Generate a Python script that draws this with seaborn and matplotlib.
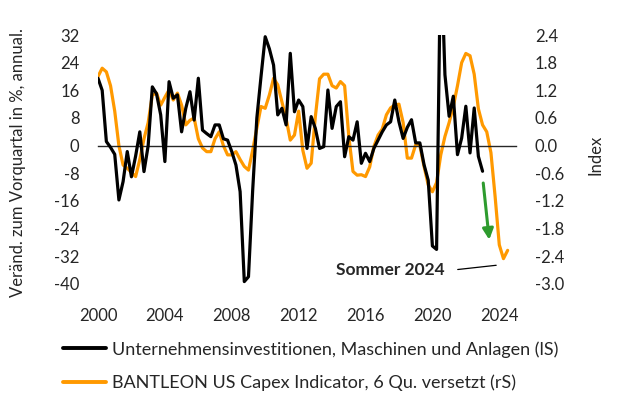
import numpy as np
import pandas as pd
import seaborn as sns
import matplotlib
matplotlib.use("Agg")
import matplotlib.pyplot as plt

# quarterly data, first point 2000 Q1
capex_yoy = [19.5, 16, 1.2, -0.5, -2.5, -15.7, -10.4, -1.7, -9, -3,
             4, -7.5, 0, 17, 15, 8.9, -4.6, 18.5, 13.7, 14.7,
             4, 10.8, 15.6, 7.4, 19.5, 4.5, 3.5, 2.6, 6, 6,
             2, 1.6, -1.7, -5.6, -13.3, -39.3, -37.9, -13, 8, 20,
             31.5, 28, 23.3, 8.9, 10.8, 6, 26.7, 9.8, 13.2, 11.3,
             -0.8, 8.4, 5, -0.8, -0.3, 16.1, 5, 11.3, 12.7, -3.2,
             2.6, 1.6, 6.9, -5.1, -2.2, -4.6, -0.8, 1.6, 4, 6,
             6.9, 13.2, 6.9, 2.1, 5.3, 7.5, 0.8, 0.8, -5.5, -10,
             -29, -30, 58, 20.5, 8.5, 14.3, -2.6, 2.2, 11.4, -2.1,
             10.9, -3.1, -7.4]
indicator = [1.5, 1.68, 1.6, 1.3, 0.75, 0.0, -0.42, -0.49, -0.58, -0.67,
             -0.3, 0.15, 0.5, 1.1, 1.14, 0.88, 1.05, 1.21, 0.99, 1.14,
             0.88, 0.45, 0.55, 0.6, 0.15, -0.05, -0.13, -0.13, 0.15, 0.3,
             0.0, -0.2, -0.2, -0.13, -0.3, -0.45, -0.53, -0.1, 0.38, 0.85,
             0.81, 1.1, 1.46, 1.32, 0.95, 0.59, 0.12, 0.23, 0.75, -0.1,
             -0.49, -0.38, 0.63, 1.45, 1.55, 1.55, 1.3, 1.25, 1.39, 1.3,
             0.2, -0.56, -0.64, -0.63, -0.67, -0.46, -0.02, 0.23, 0.36, 0.67,
             0.82, 0.88, 0.9, 0.5, -0.27, -0.27, 0.02, 0.0, -0.45, -0.85,
             -1.0, -0.8, -0.2, 0.2, 0.5, 0.85, 1.3, 1.8, 2.0, 1.95,
             1.55, 0.8, 0.45, 0.3, -0.15, -1.1, -2.15, -2.45, -2.27]

year_ticks = [2000, 2004, 2008, 2012, 2016, 2020, 2024]
left_ticks = [-40, -32, -24, -16, -8, 0, 8, 16, 24, 32]
right_ticks = [-3.0, -2.4, -1.8, -1.2, -0.6, 0.0, 0.6, 1.2, 1.8, 2.4]

label_black = "Unternehmensinvestitionen, Maschinen und Anlagen (lS)"
label_orange = "BANTLEON US Capex Indicator, 6 Qu. versetzt (rS)"

df_black = pd.DataFrame({"t": 2000 + 0.25 * np.arange(len(capex_yoy)), "v": capex_yoy})
df_orange = pd.DataFrame({"t": 2000 + 0.25 * np.arange(len(indicator)), "v": indicator})

sns.set_style("white")
plt.rcParams["font.family"] = ["Lato", "DejaVu Sans"]
FS = 12

fig = plt.figure(figsize=(6.22, 3.97), dpi=100)
ax = fig.add_axes([98 / 622, 1 - 284 / 397, 418 / 622, 249 / 397])
ax2 = ax.twinx()

sns.lineplot(data=df_black, x="t", y="v", ax=ax, color="black", lw=2.3, zorder=3)
sns.lineplot(data=df_orange, x="t", y="v", ax=ax2, color="#FF9900", lw=2.3)
ax.set_zorder(ax2.get_zorder() + 1)
ax.patch.set_visible(False)

ax.set_xlim(2000, 2025)
ax.set_ylim(-40, 32)
ax2.set_ylim(-3.0, 2.4)
ax.set_yticks(left_ticks)
ax.set_yticklabels([str(v) for v in left_ticks])
ax2.set_yticks(right_ticks)
ax2.set_yticklabels([f"{v:.1f}" for v in right_ticks])
ax.set_xticks(year_ticks)
ax.set_xticklabels([str(y) for y in year_ticks])

for a in (ax, ax2):
    for s in a.spines.values():
        s.set_visible(False)
    a.set_xlabel("")
    a.set_ylabel("")

ax.spines["bottom"].set_visible(True)
ax.spines["bottom"].set_position(("data", 0))
ax.spines["bottom"].set_linewidth(1.0)
ax.tick_params(axis="x", direction="out", length=4, width=1, pad=113, labelsize=FS)
ax.tick_params(axis="y", length=0, pad=13.3, labelsize=FS)
ax2.tick_params(axis="y", length=0, pad=13.5, labelsize=FS)

fig.text(18 / 622, 1 - 163 / 397, "Veränd. zum Vorquartal in %, annual.",
         rotation=90, ha="center", va="center", fontsize=FS)
fig.text(596 / 622, 1 - 155 / 397, "Index", rotation=90,
         ha="center", va="center", fontsize=FS)

# annotations
ax.text(2017.46, -35.9, "Sommer 2024", ha="center", va="center",
        fontsize=12.5, fontweight="bold")
ax.annotate("", xy=(2023.98, -34.5), xytext=(2021.35, -35.9),
            arrowprops=dict(arrowstyle="-", color="black", lw=0.9))
ax.annotate("", xy=(2023.4, -27.2), xytext=(2023.04, -10.8),
            arrowprops=dict(arrowstyle="-|>", color="#2E9B2E", lw=2.2,
                            mutation_scale=16, shrinkA=0, shrinkB=0))

handles = [plt.Line2D([], [], color="black", lw=2.8),
           plt.Line2D([], [], color="#FF9900", lw=2.8)]
fig.legend(handles, [label_black, label_orange], loc="upper left",
           bbox_to_anchor=(63 / 622, 1 - 341 / 397), frameon=False,
           fontsize=13, handlelength=2.4, handletextpad=0.3, labelspacing=0.95,
           borderaxespad=0, borderpad=0)

fig.savefig("out.png", dpi=100)
